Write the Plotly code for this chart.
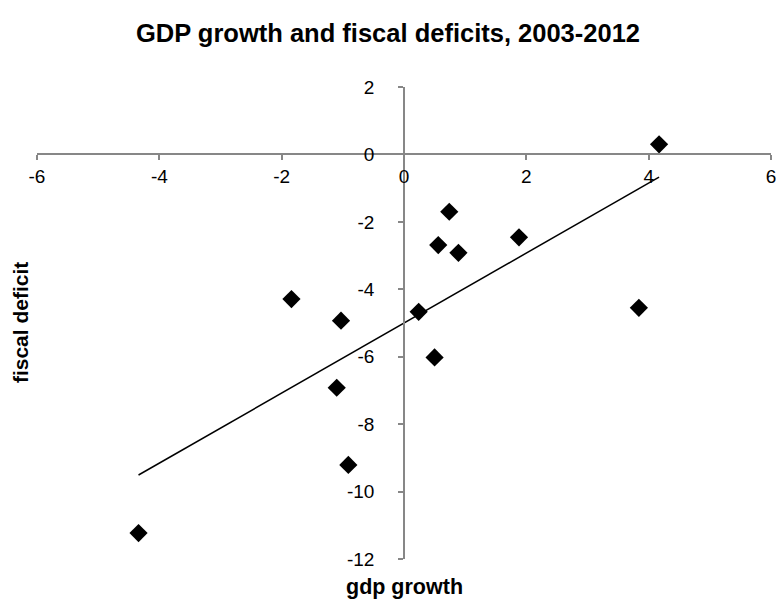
import numpy as np
import plotly.graph_objects as go

gdp_growth = [4.17, 0.74, 0.56, 0.89, 1.88, -1.84, -1.03, 0.24, 3.84, 0.50, -1.10, -0.91, -4.34]
fiscal_deficit = [0.30, -1.70, -2.69, -2.92, -2.46, -4.29, -4.93, -4.67, -4.55, -6.02, -6.92, -9.21, -11.23]
x_ticks = [-6, -4, -2, 0, 2, 4, 6]
x_tick_labels = ["-6", "-4", "-2", "0", "2", "4", "6"]
y_ticks = [2, 0, -2, -4, -6, -8, -10, -12]
y_tick_labels = ["2", "0", "-2", "-4", "-6", "-8", "-10", "-12"]

x = np.array(gdp_growth)
y = np.array(fiscal_deficit)
slope, intercept = np.polyfit(x, y, 1)
xt = np.array([x.min(), x.max()])
yt = slope * xt + intercept

FONT = "Liberation Sans, Arial"

fig = go.Figure()
fig.add_trace(go.Scatter(x=xt, y=yt, mode="lines",
                         line=dict(color="black", width=1.5), showlegend=False))
fig.add_trace(go.Scatter(x=gdp_growth, y=fiscal_deficit, mode="markers",
                         marker=dict(symbol="diamond", size=14, color="black"),
                         showlegend=False))

axis_common = dict(showgrid=False, zeroline=False, showline=True,
                   linecolor="#878787", linewidth=1.5, ticks="outside",
                   ticklen=5, tickcolor="#878787", tickwidth=1.5,
                   ticklabeloverflow="allow", automargin=False,
                   tickfont=dict(family=FONT, size=19, color="black"))

fig.update_layout(
    width=776, height=604,
    margin=dict(l=37, r=5, t=87, b=45, autoexpand=False),
    plot_bgcolor="white", paper_bgcolor="white",
    title=dict(text="<b>GDP growth and fiscal deficits, 2003-2012</b>",
               x=0.5, xanchor="center", y=1 - 33 / 604, yanchor="middle",
               yref="container",
               font=dict(family=FONT, size=25.5, color="black")),
    xaxis=dict(range=[-6, 6], tickvals=x_ticks, ticktext=x_tick_labels,
               anchor="free", position=12 / 14, domain=[0, 1],
               ticklabelstandoff=0, **axis_common),
    yaxis=dict(range=[-12, 2], tickvals=y_ticks, ticktext=y_tick_labels,
               anchor="free", position=0.5, domain=[0, 1],
               ticklabelstandoff=20, **axis_common),
    annotations=[
        dict(text="<b>gdp growth</b>", xref="paper", yref="paper", x=0.5, y=-0.059,
             xanchor="center", yanchor="middle", showarrow=False,
             font=dict(family=FONT, size=21.5, color="black")),
        dict(text="<b>fiscal deficit</b>", xref="paper", yref="paper", x=-0.023, y=0.5,
             xanchor="center", yanchor="middle", showarrow=False, textangle=-90,
             font=dict(family=FONT, size=21, color="black")),
    ],
)

fig.write_html("out.html")
